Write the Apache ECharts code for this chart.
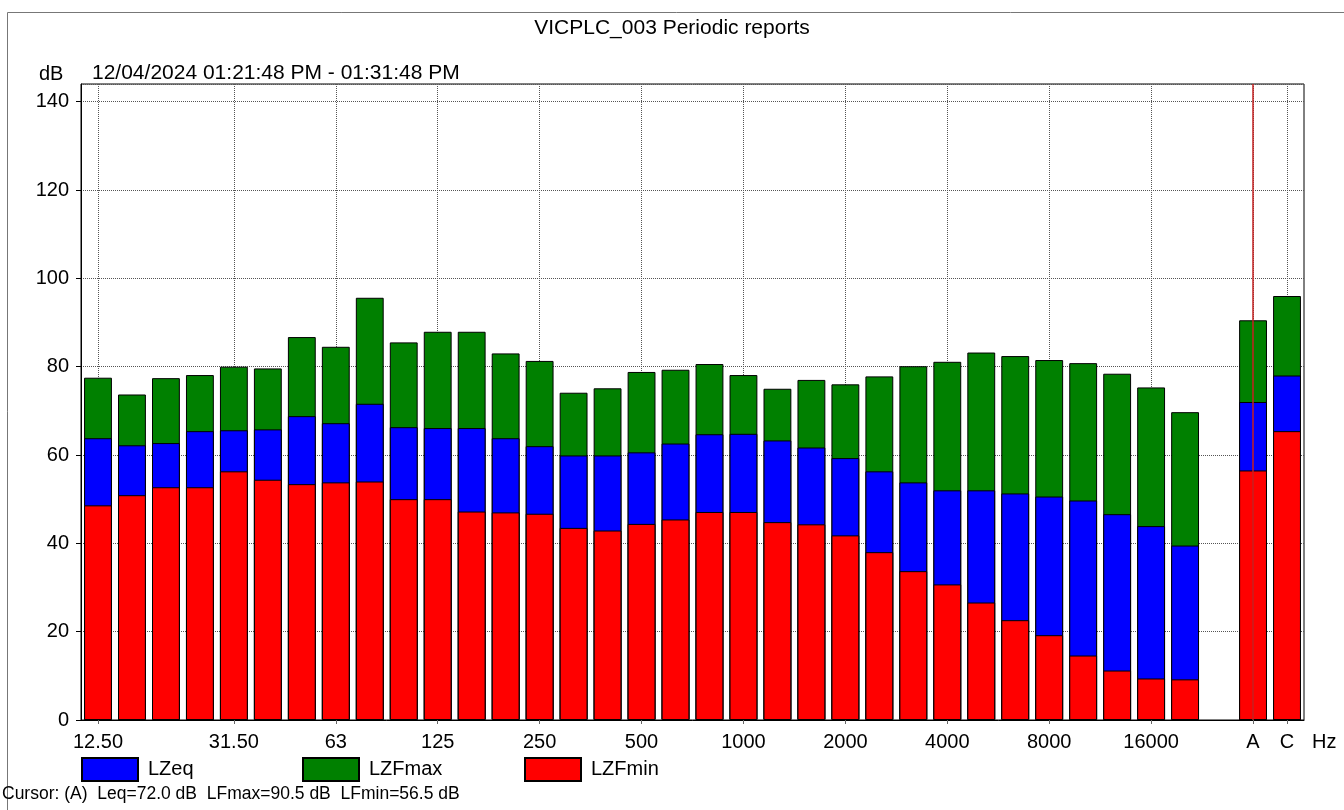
<!DOCTYPE html>
<html>
<head>
<meta charset="utf-8">
<title>VICPLC_003 Periodic reports</title>
<script src="https://cdn.jsdelivr.net/npm/echarts@6/dist/echarts.min.js"></script>
<style>
  html, body { margin: 0; padding: 0; background: #fff; }
  #chart { width: 1344px; height: 810px; }
</style>
</head>
<body>
<div id="chart"></div>
<script>
// 1/3 octave bands, an empty slot, then the A and C weighted totals
var bands = ['12.50', '16', '20', '25', '31.50', '40', '50', '63', '80', '100', '125', '160',
             '200', '250', '315', '400', '500', '630', '800', '1000', '1250', '1600', '2000',
             '2500', '3150', '4000', '5000', '6300', '8000', '10000', '12500', '16000', '20000',
             '', 'A', 'C'];
// bands that get a label, a tick and a grid line
var tickLabels = ['12.50', '31.50', '63', '125', '250', '500', '1000', '2000', '4000', '8000', '16000', 'A', 'C'];
var yTicks = [0, 20, 40, 60, 80, 100, 120, 140];

var lzfmax = [77.5, 73.7, 77.4, 78.1, 80.0, 79.6, 86.7, 84.5, 95.6, 85.5, 87.9, 87.9,
              83.0, 81.3, 74.1, 75.1, 78.8, 79.3, 80.6, 78.1, 75.0, 77.0, 76.0,
              77.8, 80.1, 81.1, 83.2, 82.4, 81.5, 80.8, 78.4, 75.3, 69.7,
              null, 90.5, 96.0];
var lzeq = [63.8, 62.2, 62.7, 65.4, 65.6, 65.8, 68.8, 67.2, 71.6, 66.3, 66.1, 66.1,
            63.8, 62.0, 59.9, 59.9, 60.6, 62.6, 64.7, 64.8, 63.3, 61.7, 59.3,
            56.3, 53.8, 52.0, 52.0, 51.3, 50.6, 49.7, 46.6, 43.9, 39.5,
            null, 72.0, 78.0];
var lzfmin = [48.6, 50.9, 52.7, 52.7, 56.3, 54.4, 53.4, 53.8, 54.0, 50.0, 50.0, 47.2,
              47.0, 46.7, 43.5, 42.9, 44.4, 45.4, 47.1, 47.1, 44.8, 44.3, 41.8,
              38.0, 33.7, 30.7, 26.6, 22.6, 19.2, 14.6, 11.2, 9.4, 9.2,
              null, 56.5, 65.4];

var cursorBand = 'A';
var cursorText = 'Cursor: (A)  Leq=72.0 dB  LFmax=90.5 dB  LFmin=56.5 dB';

var FONT = "'Liberation Sans', Arial, sans-serif";
var FS = 20;

function isTick(i) {
    return tickLabels.indexOf(bands[i]) >= 0;
}

function barSeries(name, color, data) {
    return {
        name: name,
        type: 'bar',
        data: data,
        barGap: '-100%',
        barCategoryGap: '18%',
        itemStyle: { color: color, borderColor: '#000', borderWidth: 1 },
        emphasis: { disabled: true },
        animation: false
    };
}

var myChart = echarts.init(document.getElementById('chart'), null, { renderer: 'canvas' });

var maxSeries = barSeries('LZFmax', '#008000', lzfmax);
var eqSeries = barSeries('LZeq', '#0000ff', lzeq);
var minSeries = barSeries('LZFmin', '#ff0000', lzfmin);
// cursor line on the A band
minSeries.markLine = {
    silent: true,
    symbol: 'none',
    label: { show: false },
    z: 10,
    lineStyle: { color: '#c42020', width: 1.5, type: 'solid', opacity: 1 },
    data: [{ xAxis: cursorBand }]
};
minSeries.z = 3;

function legendAt(name, left) {
    return {
        data: [name],
        left: left,
        top: 757,
        padding: 0,
        itemWidth: 56,
        itemHeight: 23,
        icon: 'rect',
        selectedMode: false,
        textStyle: { fontFamily: FONT, fontSize: FS, color: '#000', padding: [0, 0, 0, 5] }
    };
}

function plainText(text, left, top, size) {
    return { text: text, left: left, top: top, padding: 0,
             textStyle: { fontFamily: FONT, fontSize: size, fontWeight: 'normal', color: '#000' } };
}

myChart.setOption({
    backgroundColor: '#fff',
    textStyle: { fontFamily: FONT },
    title: [
        plainText('VICPLC_003 Periodic reports', 'center', 18, 21),
        plainText('12/04/2024 01:21:48 PM - 01:31:48 PM', 92, 63, 21),
        plainText('dB', 39, 64, FS),
        plainText(cursorText, 2, 785, 17.5)
    ],
    legend: [legendAt('LZeq', 81), legendAt('LZFmax', 302), legendAt('LZFmin', 524)],
    graphic: [{
        type: 'rect',
        shape: { x: 7.5, y: 12.5, width: 1345, height: 805 },
        style: { fill: 'none', stroke: '#777', lineWidth: 1 },
        silent: true
    }],
    grid: {
        left: 81, right: 40, top: 84, bottom: 90,
        show: true, borderColor: '#000', borderWidth: 1
    },
    xAxis: {
        type: 'category',
        data: bands,
        name: 'Hz',
        nameLocation: 'end',
        nameGap: 8,
        nameTextStyle: { fontFamily: FONT, fontSize: FS, color: '#000',
                         verticalAlign: 'top', padding: [12, 0, 0, 0] },
        axisLine: { lineStyle: { color: '#000' } },
        axisTick: { show: true, alignWithLabel: true, length: 4,
                    interval: function (i) { return isTick(i); },
                    lineStyle: { color: '#666' } },
        axisLabel: { interval: function (i) { return isTick(i); },
                     margin: 12, fontFamily: FONT, fontSize: FS, color: '#000' },
        splitLine: { show: true, alignWithLabel: true,
                     interval: function (i) { return isTick(i); },
                     lineStyle: { color: '#555', type: 'dotted', width: 1 } }
    },
    yAxis: {
        type: 'value',
        min: yTicks[0],
        max: 144,
        interval: 20,
        axisLine: { show: true, lineStyle: { color: '#000' } },
        axisTick: { show: true, length: 5, lineStyle: { color: '#000' } },
        axisLabel: { margin: 12, fontFamily: FONT, fontSize: FS, color: '#000',
                     showMaxLabel: false,
                     formatter: function (v) { return yTicks.indexOf(v) >= 0 ? String(v) : ''; } },
        splitLine: { show: true, lineStyle: { color: '#555', type: 'dotted', width: 1 } }
    },
    series: [maxSeries, eqSeries, minSeries]
});
</script>
</body>
</html>
